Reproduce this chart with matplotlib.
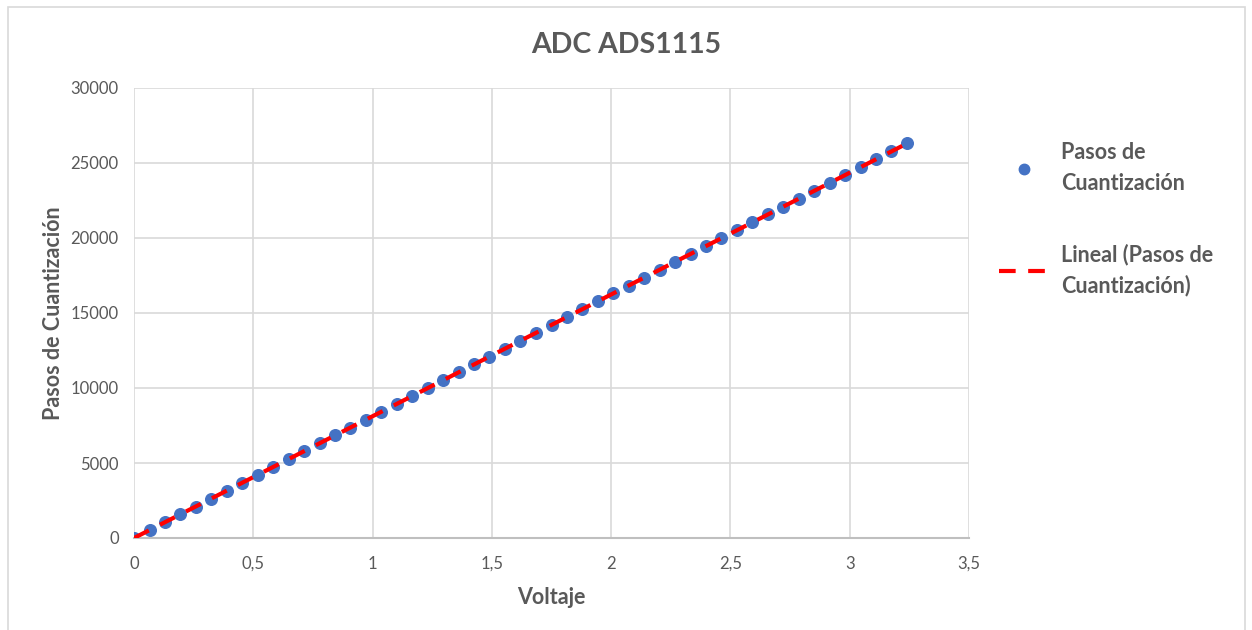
import numpy as np
import matplotlib.pyplot as plt
from matplotlib.patches import Rectangle
from matplotlib.lines import Line2D

# --- data ---
voltaje = [0.000, 0.065, 0.130, 0.194, 0.259, 0.324, 0.389, 0.454, 0.518, 0.583,
           0.648, 0.713, 0.778, 0.842, 0.907, 0.972, 1.037, 1.102, 1.166, 1.231,
           1.296, 1.361, 1.426, 1.490, 1.555, 1.620, 1.685, 1.750, 1.814, 1.879,
           1.944, 2.009, 2.074, 2.138, 2.203, 2.268, 2.333, 2.398, 2.462, 2.527,
           2.592, 2.657, 2.722, 2.786, 2.851, 2.916, 2.981, 3.046, 3.110, 3.175,
           3.240]
pasos = [0, 530, 1050, 1580, 2100, 2630, 3150, 3680, 4210, 4730,
         5260, 5790, 6310, 6840, 7360, 7890, 8420, 8940, 9470, 9990,
         10520, 11050, 11570, 12100, 12620, 13150, 13680, 14200, 14730, 15250,
         15780, 16310, 16830, 17360, 17880, 18410, 18940, 19460, 19990, 20510,
         21040, 21570, 22090, 22620, 23140, 23670, 24200, 24720, 25250, 25770,
         26300]
xticks = [0, 0.5, 1, 1.5, 2, 2.5, 3, 3.5]
xtick_labels = ['0', '0,5', '1', '1,5', '2', '2,5', '3', '3,5']
yticks = [0, 5000, 10000, 15000, 20000, 25000, 30000]

plt.rcParams['font.family'] = ['Lato', 'DejaVu Sans']
gray = '#595959'
blue = '#4472C4'
red = '#FF0000'

fig = plt.figure(figsize=(12.52, 6.3), dpi=100)
ax = fig.add_axes([134/1252, 1 - 538/630, (969-134)/1252, (538-88)/630])

# outer chart border (Excel style)
fig.patches.append(Rectangle((8/1252, -0.05), (1245-8)/1252, 1 - 7/630 + 0.05,
                             transform=fig.transFigure, fill=False,
                             edgecolor='#D9D9D9', lw=1.2))

# linear trendline (least squares)
m, b = np.polyfit(voltaje, pasos, 1)
xt = np.array([min(voltaje), max(voltaje)])
ax.plot(xt, m*xt + b, color=red, lw=3, dashes=(4, 3), zorder=3)

ax.scatter(voltaje, pasos, s=70, color=blue, edgecolors=blue, zorder=2)

ax.set_xlim(0, 3.5)
ax.set_ylim(0, 30000)
ax.set_xticks(xticks)
ax.set_xticklabels(xtick_labels)
ax.set_yticks(yticks)
ax.grid(True, color='#D9D9D9', lw=1.2)
ax.set_axisbelow(True)
for s in ['top', 'right', 'left']:
    ax.spines[s].set_visible(False)
ax.spines['bottom'].set_color('#BFBFBF')
ax.spines['bottom'].set_linewidth(1.5)
ax.tick_params(length=0, labelsize=12, labelcolor=gray)
ax.tick_params(axis='x', pad=13)
ax.tick_params(axis='y', pad=11)

ax.set_xlabel('Voltaje', fontsize=15.5, fontweight='bold', color=gray, labelpad=11)
ax.set_ylabel('Pasos de Cuantización', fontsize=15.5, fontweight='bold', color=gray, labelpad=5)
fig.text(0.5, 1 - 45/630, 'ADC ADS1115', ha='center', va='center',
         fontsize=20.5, fontweight='bold', color=gray)

handles = [Line2D([], [], ls='none', marker='o', color=blue, markersize=7.5),
           Line2D([], [], color=red, lw=3, dashes=(4, 3))]
labels = ['Pasos de\nCuantización', 'Lineal (Pasos de\nCuantización)']
leg = fig.legend(handles, labels, loc='upper left',
                 bbox_to_anchor=(980/1252, 1 - 123/630), frameon=False,
                 prop={'size': 15.5, 'weight': 'bold'}, labelcolor=gray,
                 handlelength=2.3, labelspacing=2.3, handletextpad=0.55)
for t in leg.get_texts():
    t.set_linespacing(1.55)

fig.savefig('out.png', dpi=100)
